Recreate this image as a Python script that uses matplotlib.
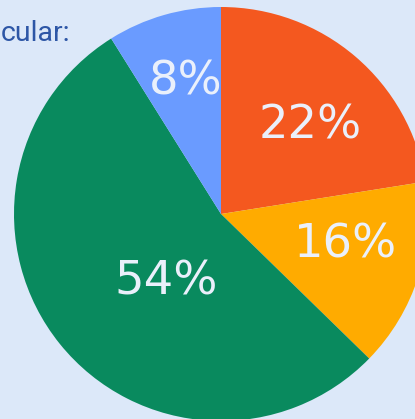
import matplotlib
matplotlib.use("Agg")
import matplotlib.pyplot as plt

# --- Data ---
labels = ["22%", "16%", "54%", "8%"]
# slice sizes
shares = [22.5, 14.8, 53.8, 8.9]
colors = ["#f4581f", "#ffab00", "#098a5e", "#6a9bff"]
# label centres in pixel coords (x from left, y from top)
label_pos = [(310, 126), (346, 245), (166, 282), (186, 82)]

BG = "#dce8f9"
W, H = 415, 419

fig = plt.figure(figsize=(W / 100, H / 100), dpi=100, facecolor=BG)
ax = fig.add_axes([0, 0, 1, 1])
ax.set_facecolor(BG)

cx, cy, r = 221, H - 214, 207
ax.pie(shares, colors=colors, startangle=90, counterclock=False,
       center=(cx, cy), radius=r, frame=True,
       wedgeprops=dict(linewidth=0))
ax.set_xlim(0, W)
ax.set_ylim(0, H)
ax.set_aspect("equal")
ax.axis("off")

for txt, (x, y) in zip(labels, label_pos):
    ax.text(x, H - y, txt, ha="center", va="center", fontsize=33.5,
            color="#eaf0fb", family="DejaVu Sans")

fig.text(1 / W, 1 - 41 / H, "cular:", ha="left", va="baseline",
         fontsize=20.5, color="#2d56a6", family="Roboto")

fig.savefig("out.png", dpi=100, facecolor=BG)
